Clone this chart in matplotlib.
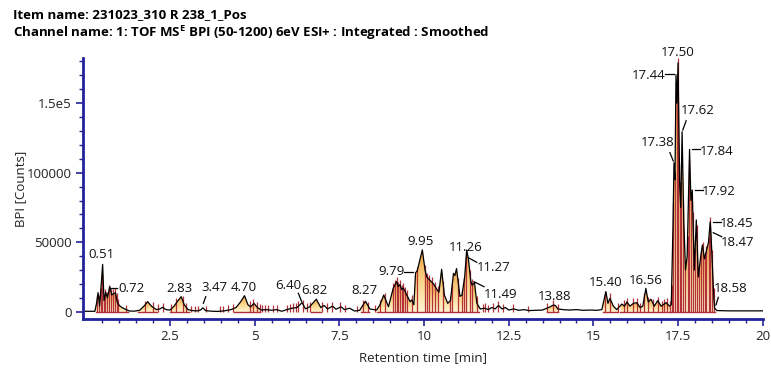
import numpy as np
import matplotlib
matplotlib.use("Agg")
import matplotlib.pyplot as plt
from matplotlib.colors import LinearSegmentedColormap

plt.rcParams['font.family'] = ['Open Sans', 'DejaVu Sans']
plt.rcParams['mathtext.fontset'] = 'custom'
plt.rcParams['mathtext.rm'] = 'Open Sans'
plt.rcParams['mathtext.bf'] = 'Open Sans:bold'

# ---------------- data ----------------
title1 = "Item name: 231023_310 R 238_1_Pos"
title2 = r"Channel name: 1: TOF MS$^{\mathbf{E}}$ BPI (50-1200) 6eV ESI+ : Integrated : Smoothed"
xlabel = "Retention time [min]"
ylabel = "BPI [Counts]"

rt = [0.00, 0.28, 0.33, 0.375, 0.42, 0.47, 0.51, 0.55, 0.60, 0.65, 0.72, 0.78, 0.83, 0.89, 0.94,
      1.00, 1.08, 1.18, 1.30, 1.45, 1.60, 1.75, 1.84, 1.95, 2.10, 2.20, 2.28, 2.38, 2.50, 2.62,
      2.72, 2.83, 2.92, 3.03, 3.15, 3.30, 3.40, 3.47, 3.55, 3.70, 3.90, 4.10, 4.30, 4.45, 4.58,
      4.70, 4.80, 4.88, 4.98, 5.08, 5.20, 5.35, 5.50, 5.65, 5.80, 5.95, 6.10, 6.25, 6.40, 6.50,
      6.62, 6.82, 6.95, 7.05, 7.15, 7.30, 7.40, 7.55, 7.65, 7.80, 7.95, 8.10, 8.27, 8.40, 8.60,
      8.70, 8.81, 8.95, 9.09, 9.19, 9.24, 9.29, 9.34, 9.39, 9.49, 9.59, 9.64, 9.70, 9.75, 9.80,
      9.95, 10.03, 10.08, 10.18, 10.28, 10.38, 10.44, 10.52, 10.60, 10.70, 10.78, 10.87, 10.91,
      10.96, 11.06, 11.12, 11.20, 11.26, 11.31, 11.38, 11.42, 11.49, 11.56, 11.66, 11.80, 11.90,
      12.00, 12.10, 12.20, 12.30, 12.40, 12.50, 12.65, 12.80, 12.95, 13.10, 13.30, 13.50, 13.62,
      13.72, 13.82, 13.88, 13.95, 14.10, 14.30, 14.50, 14.70, 14.90, 15.10, 15.25, 15.37, 15.43,
      15.49, 15.59, 15.69, 15.84, 15.92, 15.99, 16.08, 16.18, 16.28, 16.38, 16.46, 16.55, 16.62,
      16.70, 16.80, 16.90, 17.00, 17.15, 17.25, 17.30, 17.35, 17.38, 17.41, 17.44, 17.47, 17.50,
      17.55, 17.58, 17.62, 17.67, 17.72, 17.77, 17.84, 17.88, 17.92, 17.98, 18.04, 18.10, 18.17,
      18.22, 18.28, 18.35, 18.40, 18.45, 18.47, 18.52, 18.56, 18.58, 18.65, 19.00, 20.00]
bpi = [300, 300, 6000, 13700, 4000, 20000, 34000, 8000, 14000, 10000, 18000, 12000, 13000, 13500, 7000,
       4500, 3000, 1800, 500, 400, 1000, 4500, 7200, 4000, 1500, 2000, 3200, 1500, 1200, 4000,
       7500, 10800, 5000, 1500, 800, 600, 1200, 2800, 800, 400, 200, 600, 1500, 3000, 7000,
       11500, 5000, 3500, 6000, 3000, 1200, 1500, 1000, 1500, 300, 1500, 2500, 3000, 6500, 2000,
       3500, 9000, 3000, 4500, 2000, 4000, 1800, 3500, 1500, 2500, 500, 1000, 7500, 2000, 1200,
       5000, 12000, 3600, 16800, 21600, 18000, 19500, 16000, 17000, 12000, 7200, 8500, 5000, 28000, 29500,
       44500, 30000, 25000, 22500, 20000, 16000, 14000, 30500, 12000, 6000, 8000, 27600, 26000,
       31000, 11000, 12000, 25000, 44400, 38000, 22000, 19000, 21000, 6000, 2000, 2500, 1500,
       3000, 2000, 4500, 2000, 3000, 1200, 2000, 1000, 1500, 800, 1000, 1200, 2500,
       3500, 4800, 4500, 2000, 1500, 1200, 1500, 1000, 1200, 1000, 1500, 14400, 6000,
       9600, 4000, 1500, 5500, 4000, 7000, 4000, 6000, 6500, 3000, 4000, 16800, 7000,
       9000, 4000, 8000, 4000, 6500, 4000, 5000, 60000, 107000, 95000, 170500, 150000, 179000,
       90000, 75000, 129500, 65000, 30000, 40000, 116800, 80000, 87500, 30000, 66000, 25000, 40000,
       48000, 38000, 45000, 50000, 64700, 57500, 30000, 8400, 2500, 800, 600, 600]

# integrated regions (start, end) in minutes
regions = [(0.30, 1.25), (1.55, 2.12), (2.50, 3.05), (4.40, 5.15), (6.65, 6.97), (8.15, 8.38),
           (8.62, 11.62), (13.62, 13.97), (15.28, 15.72), (15.80, 16.42), (16.45, 17.28),
           (17.30, 18.58)]

# peak start/end markers (minutes)
markers = [0.345, 0.40, 0.45, 0.48, 0.55, 0.59, 0.64, 0.70, 0.77, 0.82, 0.87, 0.92, 0.97, 1.21,
           1.75, 2.00, 2.15, 2.29, 2.54, 2.69, 2.88, 2.98, 3.13, 3.23, 3.33, 3.57, 3.98, 4.07,
           4.22, 4.37, 4.86, 4.96, 5.06, 5.16, 5.21, 5.31, 5.40, 5.55, 5.65, 5.95, 6.04, 6.14,
           6.22, 6.29, 6.44, 6.54, 6.63, 6.98, 7.13, 7.27, 7.52, 7.67, 8.01, 8.21, 8.36, 8.55,
           8.70, 8.85, 9.09, 9.14, 9.19, 9.24, 9.29, 9.34, 9.39, 9.44, 9.49, 9.64, 9.78, 10.03,
           10.10, 10.16, 10.23, 10.33, 10.42, 10.57, 10.77, 10.82, 11.01, 11.11, 11.18, 11.24,
           11.36, 11.41, 11.55, 11.75, 11.80, 11.90, 12.05, 12.19, 12.34, 12.64, 13.08, 13.62,
           13.82, 13.97, 15.34, 15.49, 15.74, 15.89, 16.00, 16.18, 16.28, 16.38, 16.50, 16.62,
           16.77, 16.92, 17.02, 17.09, 17.16, 17.26, 17.31, 17.36, 17.41, 17.46, 17.50, 17.55,
           17.60, 17.66, 17.72, 17.78, 17.83, 17.88, 17.94, 18.00, 18.05, 18.11, 18.17, 18.23,
           18.29, 18.34, 18.40, 18.45, 18.50, 18.55]

# peak labels: text, label x, label y, leader (x0, y0, x1, y1) or None
label_text = ["0.51", "0.72", "2.83", "3.47", "4.70", "6.40", "6.82", "8.27", "9.79", "9.95",
              "11.26", "11.27", "11.49", "13.88", "15.40", "16.56", "18.58", "17.50", "17.44",
              "17.62", "17.38", "17.84", "17.92", "18.45", "18.47"]
label_x = [0.478, 1.37, 2.766, 3.815, 4.671, 5.985, 6.752, 8.229, 9.04, 9.912,
           11.24, 12.066, 12.27, 13.867, 15.373, 16.55, 19.06, 17.485, 16.622,
           18.09, 16.894, 18.65, 18.71, 19.24, 19.27]
label_y = [41500, 17050, 16700, 17400, 17400, 19200, 15250, 14900, 28900, 50860,
           46200, 31440, 12730, 10580, 21000, 22800, 16550, 186500, 169570,
           144400, 121700, 115250, 86830, 63800, 49780]
leaders = [None, (0.73, 17050, 0.94, 17050), None, (3.554, 10800, 3.484, 6040), None,
           (6.289, 13240, 6.389, 7190), None, None, (9.418, 28780, 9.684, 28780), None,
           None, (11.308, 38850, 11.556, 35540), (11.476, 21580, 11.771, 17990), None, None, None,
           (18.62, 4820, 18.69, 10360), None, (17.115, 170800, 17.38, 170800),
           (17.64, 130700, 17.74, 137400), (17.26, 114400, 17.36, 108400),
           (17.904, 116830, 18.15, 116830), (18.0, 87550, 18.23, 87550),
           (18.52, 64750, 18.76, 64750), (18.54, 56830, 18.79, 53950)]

xtick_vals = [2.5, 5, 7.5, 10, 12.5, 15, 17.5, 20]
xtick_labels = ["2.5", "5", "7.5", "10", "12.5", "15", "17.5", "20"]
ytick_vals = [0, 50000, 100000, 150000]
ytick_labels = ["0", "50000", "100000", "1.5e5"]

# ---------------- figure ----------------
W, H = 771, 374
fig = plt.figure(figsize=(W / 100, H / 100), dpi=100)
ax_left, ax_right, ax_top, ax_bot = 83, 762.7, 58.3, 319
ax = fig.add_axes([ax_left / W, (H - ax_bot) / H, (ax_right - ax_left) / W, (ax_bot - ax_top) / H])
XMIN, XMAX = -0.07, 20.0
YMIN, YMAX = -5250, 182300
ax.set_xlim(XMIN, XMAX)
ax.set_ylim(YMIN, YMAX)

rt_a = np.asarray(rt, float)
bpi_a = np.asarray(bpi, float)

# gradient fill image for integrated regions
nx, ny = 4000, 900
xs = np.linspace(0, 20, nx)
ys = np.linspace(0, YMAX, ny)
tr = np.interp(xs, rt_a, bpi_a)
inreg = np.zeros(nx, bool)
for a, b in regions:
    inreg |= (xs >= a) & (xs <= b)
bounds = np.array(sorted(set(list(markers) + [v for r in regions for v in r])))
seg = np.searchsorted(bounds, xs)
env = np.zeros(nx)
for s in np.unique(seg):
    msk = seg == s
    env[msk] = tr[msk].max()
env = np.maximum(env, 1)
frac = np.clip(ys[:, None] / env[None, :], 0, 1)
cmap = LinearSegmentedColormap.from_list("g", ["#fff6d2", "#fbd58a", "#f0a040"])
rgba = cmap(frac)
inside = (ys[:, None] <= tr[None, :]) & inreg[None, :]
rgba[..., 3] = np.where(inside, 1.0, 0.0)
ax.imshow(rgba, extent=(0, 20, 0, YMAX), origin="lower", aspect="auto",
          interpolation="bilinear", zorder=1)

# integration baselines
for a, b in regions:
    ax.plot([a, b], [0, 0], color="#b03038", lw=1.0, zorder=2)

# markers
red = "#b3323a"
mk = np.asarray(markers)
tops = np.interp(mk, rt_a, bpi_a) + 3500
ax.vlines(mk, 0, tops, colors=red, lw=0.9, zorder=2)

# trace
ax.plot(rt_a, bpi_a, color="black", lw=0.9, zorder=3)

# labels
for t, lx, ly, ld in zip(label_text, label_x, label_y, leaders):
    if ld is not None:
        ax.plot([ld[0], ld[2]], [ld[1], ld[3]], color="black", lw=0.9, zorder=4, clip_on=False)
    ax.text(lx, ly, t, ha="center", va="center", fontsize=9.5, color="#111111",
            zorder=5, clip_on=False)

# axes styling
navy = "#22229a"
for s in ["top", "right"]:
    ax.spines[s].set_visible(False)
for s in ["left", "bottom"]:
    ax.spines[s].set_color(navy)
    ax.spines[s].set_linewidth(2.0)
ax.set_xticks(xtick_vals)
ax.set_xticklabels(xtick_labels)
ax.set_xticks(np.arange(0.5, 20.0, 0.5), minor=True)
ax.set_yticks(ytick_vals)
ax.set_yticklabels(ytick_labels)
ax.set_yticks(np.arange(10000, 180001, 10000), minor=True)
ax.tick_params(axis="both", which="major", direction="out", color=navy, width=1.2,
               length=5, labelsize=9.5, labelcolor="#222222", pad=3)
ax.tick_params(axis="both", which="minor", direction="out", color=navy, width=1.0, length=3)
ax.set_xlabel(xlabel, fontsize=9.5, color="#222222", labelpad=6)
ax.set_ylabel(ylabel, fontsize=9.5, color="#222222")
ax.yaxis.set_label_coords((27 - ax_left) / (ax_right - ax_left), 0.5)

fig.text(13 / W, 1 - 18.3 / H, title1, fontsize=9.5, fontweight="bold", va="baseline", ha="left")
fig.text(13 / W, 1 - 37.3 / H, title2, fontsize=9.5, fontweight="bold", va="baseline", ha="left")

fig.savefig("out.png", dpi=100)
